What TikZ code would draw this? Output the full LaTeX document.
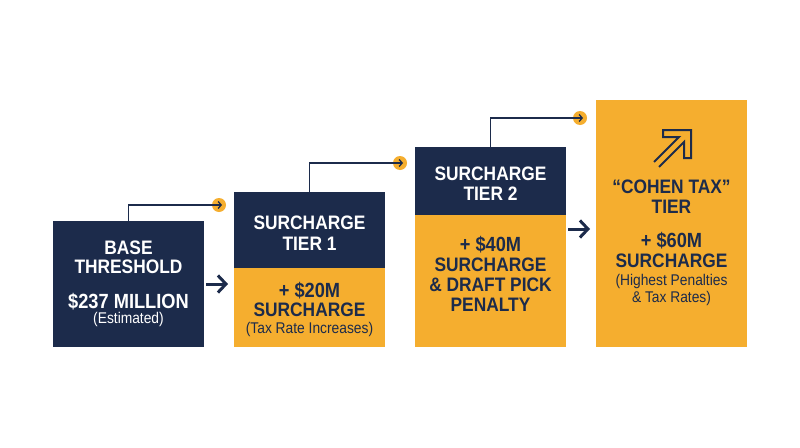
\documentclass[tikz,border=0pt]{standalone}
\usepackage{fontspec}
\setmainfont[FakeStretch=0.89]{Liberation Sans}
\usetikzlibrary{arrows.meta}
\definecolor{navy}{HTML}{1C2B4B}
\definecolor{gold}{HTML}{F5AE2F}
\begin{document}
\begin{tikzpicture}[x=1pt,y=-1pt,
  boxnavy/.style={fill=navy,draw=none,minimum width=151pt,inner sep=0pt,outer sep=0pt},
  boxgold/.style={fill=gold,draw=none,minimum width=151pt,inner sep=0pt,outer sep=0pt},
  wb/.style={text=white,anchor=base,inner sep=0pt,font=\fontsize{19.5}{20}\selectfont\bfseries},
  nb/.style={text=navy,anchor=base,inner sep=0pt,font=\fontsize{19.5}{20}\selectfont\bfseries},
  plusline/.style={nb,font=\fontsize{20.5}{21}\selectfont\bfseries},
  wr/.style={text=white,anchor=base,inner sep=0pt,font=\fontsize{15.5}{17}\selectfont},
  nr/.style={text=navy,anchor=base,inner sep=0pt,font=\fontsize{15.5}{17}\selectfont},
  dot/.style={circle,fill=gold,minimum size=14pt,inner sep=0pt},
  stepline/.style={draw=navy,line width=1.3pt,-{Straight Barb[length=3pt,width=7pt]}},
  bigarrow/.style={draw=navy,line width=3pt,-{Straight Barb[length=8pt,width=17pt]}}]
\useasboundingbox (0,0) rectangle (800,447);
\fill[white] (0,0) rectangle (800,447);
% boxes
\node[boxnavy,minimum height=126pt] (b1) at (128.5,284) {};
\node[boxnavy,minimum height=76pt] (b2t) at (309.5,230) {};
\node[boxgold,minimum height=79pt] (b2b) at (309.5,307.5) {};
\node[boxnavy,minimum height=68pt] (b3t) at (490.5,181) {};
\node[boxgold,minimum height=132pt] (b3b) at (490.5,281) {};
\node[boxgold,minimum height=247pt] (b4) at (671.5,223.5) {};
% box 1 text
\node[wb] (t1a) at (128.5,254) {BASE};
\node[wb] (t1b) at (128.5,273.3) {THRESHOLD};
\node[wb,font=\fontsize{20.5}{21}\selectfont\bfseries] (t1c) at (128.5,308.3) {\$237 MILLION};
\node[wr] (t1d) at (128.5,323.5) {(Estimated)};
% box 2 text
\node[wb] (t2a) at (309.5,229.3) {SURCHARGE};
\node[wb] (t2b) at (309.5,250) {TIER 1};
\node[plusline] (t2c) at (309.5,297.3) {+ \$20M};
\node[nb] (t2d) at (309.5,316.7) {SURCHARGE};
\node[nr] (t2e) at (309.5,333.3) {(Tax Rate Increases)};
% box 3 text
\node[wb] (t3a) at (490.5,180) {SURCHARGE};
\node[wb] (t3b) at (490.5,200) {TIER 2};
\node[plusline] (t3c) at (490.5,251.7) {+ \$40M};
\node[nb] (t3d) at (490.5,271.7) {SURCHARGE};
\node[nb] (t3e) at (490.5,291.7) {\& DRAFT PICK};
\node[nb] (t3f) at (490.5,311) {PENALTY};
% box 4 text
\node[nb] (t4a) at (671.5,193.3) {“COHEN TAX”};
\node[nb] (t4b) at (671.5,213.3) {TIER};
\node[plusline] (t4c) at (671.5,247.7) {+ \$60M};
\node[nb] (t4d) at (671.5,267.3) {SURCHARGE};
\node[nr] (t4e) at (671.5,285.5) {(Highest Penalties};
\node[nr] (t4f) at (671.5,302.5) {\& Tax Rates)};
% icon
\draw[navy,line width=2pt,line join=miter] (654,162) -- (679,137) -- (663,137) -- (663,130) -- (691,130) -- (691,158) -- (684,158) -- (684,142) -- (659,167);
% step connectors
\node[dot] (c1) at (219,205) {};
\node[dot] (c2) at (400,163) {};
\node[dot] (c3) at (580,118) {};
\coordinate (e1) at ([xshift=3pt]c1.center);
\coordinate (e2) at ([xshift=3pt]c2.center);
\coordinate (e3) at ([xshift=3pt]c3.center);
\draw[stepline] (b1.north) |- (e1);
\draw[stepline] (b2t.north) |- (e2);
\draw[stepline] (b3t.north) |- (e3);
% big arrows
\coordinate (a1s) at (206,284);
\coordinate (a1e) at (228,284);
\coordinate (a2s) at (568,229);
\coordinate (a2e) at (590,229);
\draw[bigarrow] (a1s) -- (a1e);
\draw[bigarrow] (a2s) -- (a2e);
\end{tikzpicture}
\end{document}
